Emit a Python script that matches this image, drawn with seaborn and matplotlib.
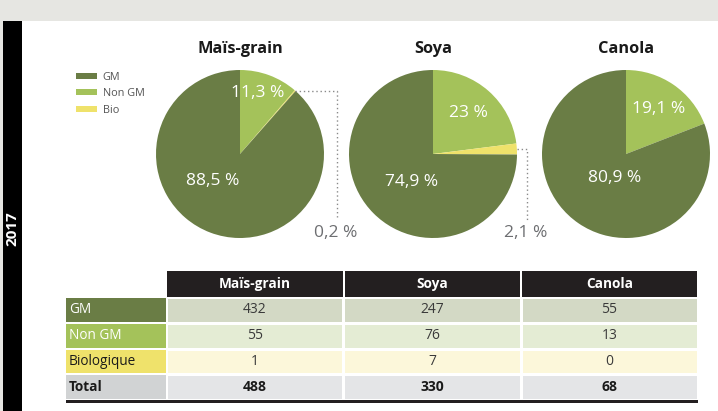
import numpy as np
import matplotlib
matplotlib.use("Agg")
import matplotlib.pyplot as plt
from matplotlib.patches import Rectangle
from matplotlib.colors import ListedColormap
import seaborn as sns

# ---------------- data ----------------
crops = ["Maïs-grain", "Soya", "Canola"]
categories = ["GM", "Non GM", "Bio"]
row_labels = ["GM", "Non GM", "Biologique", "Total"]
gm_pct = [88.5, 74.9, 80.9]
nongm_pct = [11.3, 23.0, 19.1]
bio_pct = [0.2, 2.1, 0.0]
gm_counts = [432, 247, 55]
nongm_counts = [55, 76, 13]
bio_counts = [1, 7, 0]
total_counts = [488, 330, 68]
year_label = "2017"

# ---------------- style ----------------
sns.set_theme(style="white")
plt.rcParams["font.family"] = ["Open Sans", "DejaVu Sans"]

C_GM, C_NON, C_BIO = "#6a7d45", "#a4c25a", "#efe26b"
ROW_BG = ["#d3d9c5", "#e4ecd4", "#fcf7da", "#e4e5e7"]
LABEL_BG = [C_GM, C_NON, C_BIO, "#d1d3d4"]
LABEL_FG = ["white", "white", "#1a1a1a", "#1a1a1a"]

W, H = 718, 411
fig = plt.figure(figsize=(W / 100, H / 100), dpi=100)
fig.patch.set_facecolor("white")


def px_axes(x0, y0, x1, y1):
    return fig.add_axes([x0 / W, 1 - y1 / H, (x1 - x0) / W, (y1 - y0) / H])


# background / frame
bg = px_axes(0, 0, W, H)
bg.set_xlim(0, W)
bg.set_ylim(H, 0)
bg.axis("off")
bg.add_patch(Rectangle((0, 0), W, 21, color="#e6e6e2", lw=0))
bg.add_patch(Rectangle((0, 21), 3, H, color="#e6e6e2", lw=0))
bg.add_patch(Rectangle((3, 21), 19, H, color="black", lw=0))
bg.text(12.5, 229, year_label, rotation=90, color="white", fontsize=11,
        fontweight="bold", ha="center", va="center")

# ---------------- pies ----------------
R = 84
centers = [(240, 154), (433, 154), (626, 154)]
nongm_label_pos = [(0.21, 0.73), (0.42, 0.49), (0.39, 0.54)]
gm_label_pos = [(-0.32, -0.32), (-0.26, -0.33), (-0.14, -0.29)]


def fmt(v):
    return f"{v:g}".replace(".", ",") + " %"


wedges_for_legend = None
bio_mid_angles = []
for i, (cx, cy) in enumerate(centers):
    ax = px_axes(cx - R - 2, cy - R - 2, cx + R + 2, cy + R + 2)
    vals = [nongm_pct[i], bio_pct[i], gm_pct[i]]
    wedges, _ = ax.pie(vals, colors=[C_NON, C_BIO, C_GM], startangle=90,
                       counterclock=False, radius=1,
                       wedgeprops=dict(linewidth=0))
    lim = (R + 2) / R
    ax.set_xlim(-lim, lim)
    ax.set_ylim(-lim, lim)
    ax.axis("off")
    if wedges_for_legend is None:
        wedges_for_legend = [wedges[2], wedges[0], wedges[1]]
    w = wedges[1]
    bio_mid_angles.append(np.deg2rad((w.theta1 + w.theta2) / 2))
    ax.text(*nongm_label_pos[i], fmt(nongm_pct[i]), color="white",
            fontsize=12.5, ha="center", va="center")
    ax.text(*gm_label_pos[i], fmt(gm_pct[i]), color="white",
            fontsize=12.5, ha="center", va="center")
    bg.text(cx, 49, crops[i], fontsize=11.8, fontweight="bold",
            color="#1a1a1a", ha="center", va="center")

# legend
fig.legend(wedges_for_legend, categories, loc="upper left",
           bbox_to_anchor=(66 / W, 1 - 62 / H), frameon=False,
           fontsize=7.8, handlelength=1.95, handleheight=0.45,
           labelspacing=0.5, handletextpad=0.55, labelcolor="#555555")

# overlay for leader lines and outside labels
ov = px_axes(0, 0, W, H)
ov.set_xlim(0, W)
ov.set_ylim(H, 0)
ov.axis("off")
leader_x = [337, 527]
leader_end = [217, 222]
for i in range(2):
    cx, cy = centers[i]
    a = bio_mid_angles[i]
    sx, sy = cx + R * np.cos(a), cy - R * np.sin(a)
    ov.plot([sx, leader_x[i], leader_x[i]], [sy, sy, leader_end[i]],
            ls=(0, (1, 2)), color="#8a8a8a", lw=1)
    ov.text(leader_x[i] - 1, 233, fmt(bio_pct[i]), color="#6d6e71",
            fontsize=12.5, ha="center", va="center")

# ---------------- table ----------------
col_edges = [166, 344, 521, 698]
row_top, row_h = 297, 25.75
# header
for j in range(3):
    x0 = col_edges[j] + 1
    x1 = col_edges[j + 1] - 1
    bg.add_patch(Rectangle((x0, 271), x1 - x0, 26, color="#231f20", lw=0))
    bg.text((col_edges[j] + col_edges[j + 1]) / 2, 284, crops[j],
            color="white", fontsize=9.8, fontweight="bold",
            ha="center", va="center")
# row labels
for r in range(4):
    y0 = row_top + r * row_h + 1
    bg.add_patch(Rectangle((66, y0), 100, row_h - 2, color=LABEL_BG[r], lw=0))
    bg.text(69, y0 + (row_h - 2) / 2, row_labels[r], color=LABEL_FG[r],
            fontsize=9.8, fontweight="bold" if r == 3 else "normal",
            ha="left", va="center")

tab = px_axes(col_edges[0], row_top, col_edges[-1], row_top + 4 * row_h)
row_idx = np.repeat(np.arange(4)[:, None], 3, axis=1)
counts = np.array([gm_counts, nongm_counts, bio_counts, total_counts])
sns.heatmap(row_idx, ax=tab, cmap=ListedColormap(ROW_BG), vmin=-0.5,
            vmax=3.5, cbar=False, annot=counts, fmt="d",
            linewidths=2, linecolor="white",
            annot_kws=dict(color="#3a3a3a", fontsize=10))
tab.set_xticks([])
tab.set_yticks([])
for t in tab.texts:
    x, y = t.get_position()
    if y > 3:
        t.set_fontweight("bold")
        t.set_color("#1a1a1a")

bg.add_patch(Rectangle((66, 399.5), col_edges[-1] - 66, 3.2,
                       color="#231f20", lw=0))

fig.savefig("out.png", dpi=100)
